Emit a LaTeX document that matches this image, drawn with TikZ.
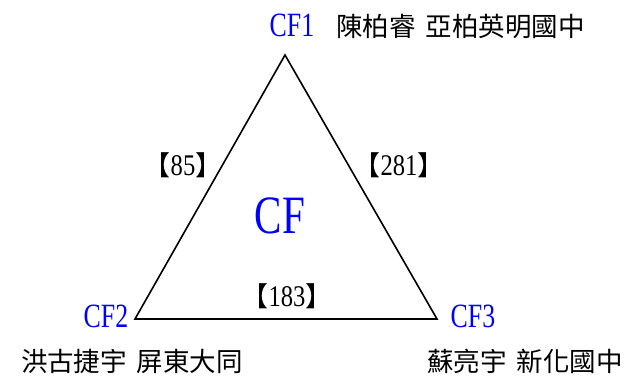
\documentclass[tikz,border=0pt]{standalone}
\usepackage{fontspec}
\setmainfont{Liberation Serif}
\newfontfamily\narrowserif[FakeStretch=0.76]{Liberation Serif}
\newfontfamily\digitserif[FakeStretch=0.82]{Liberation Serif}
\newfontfamily\cjk{Noto Sans CJK TC}
\newcommand\lbrk{{\cjk\fontsize{27}{27}\selectfont 【}}
\newcommand\rbrk{{\cjk\fontsize{27}{27}\selectfont 】}}
\begin{document}
\begin{tikzpicture}[x=1pt,y=-1pt,
  vlabel/.style={text=blue, inner sep=0pt, font=\narrowserif\fontsize{34}{34}\selectfont},
  school/.style={inner sep=0pt, font=\cjk\fontsize{26.5}{26.5}\selectfont},
  weight/.style={inner sep=0pt, font=\digitserif\fontsize{30}{30}\selectfont},
  bigcf/.style={text=blue, inner sep=0pt, font=\narrowserif\fontsize{54}{54}\selectfont},
  tri/.style={draw=black, line width=1.6pt, line join=miter}]
\useasboundingbox (0,0) rectangle (625,376);
\coordinate (A) at (285,55);
\coordinate (B) at (135,319);
\coordinate (C) at (437,319);
\draw[tri] (A) -- (B) -- (C) -- cycle;
\node[vlabel] (cf1) at (292,25) {CF1};
\node[vlabel] (cf2) at (106,316) {CF2};
\node[vlabel] (cf3) at (473,316) {CF3};
\node[school, anchor=west] (n1) at (336,27) {陳柏睿\hspace{10pt}亞柏英明國中};
\node[school] (n2) at (132,361) {洪古捷宇\hspace{10pt}屏東大同};
\node[school] (n3) at (525,361) {蘇亮宇\hspace{10pt}新化國中};
\node[weight] (e85) at (183,165) {\lbrk 85\rbrk};
\node[weight] (e281) at (399,165) {\lbrk 281\rbrk};
\node[weight] (e183) at (287,296) {\lbrk 183\rbrk};
\node[bigcf] (cf) at (280,216) {CF};
\end{tikzpicture}
\end{document}
